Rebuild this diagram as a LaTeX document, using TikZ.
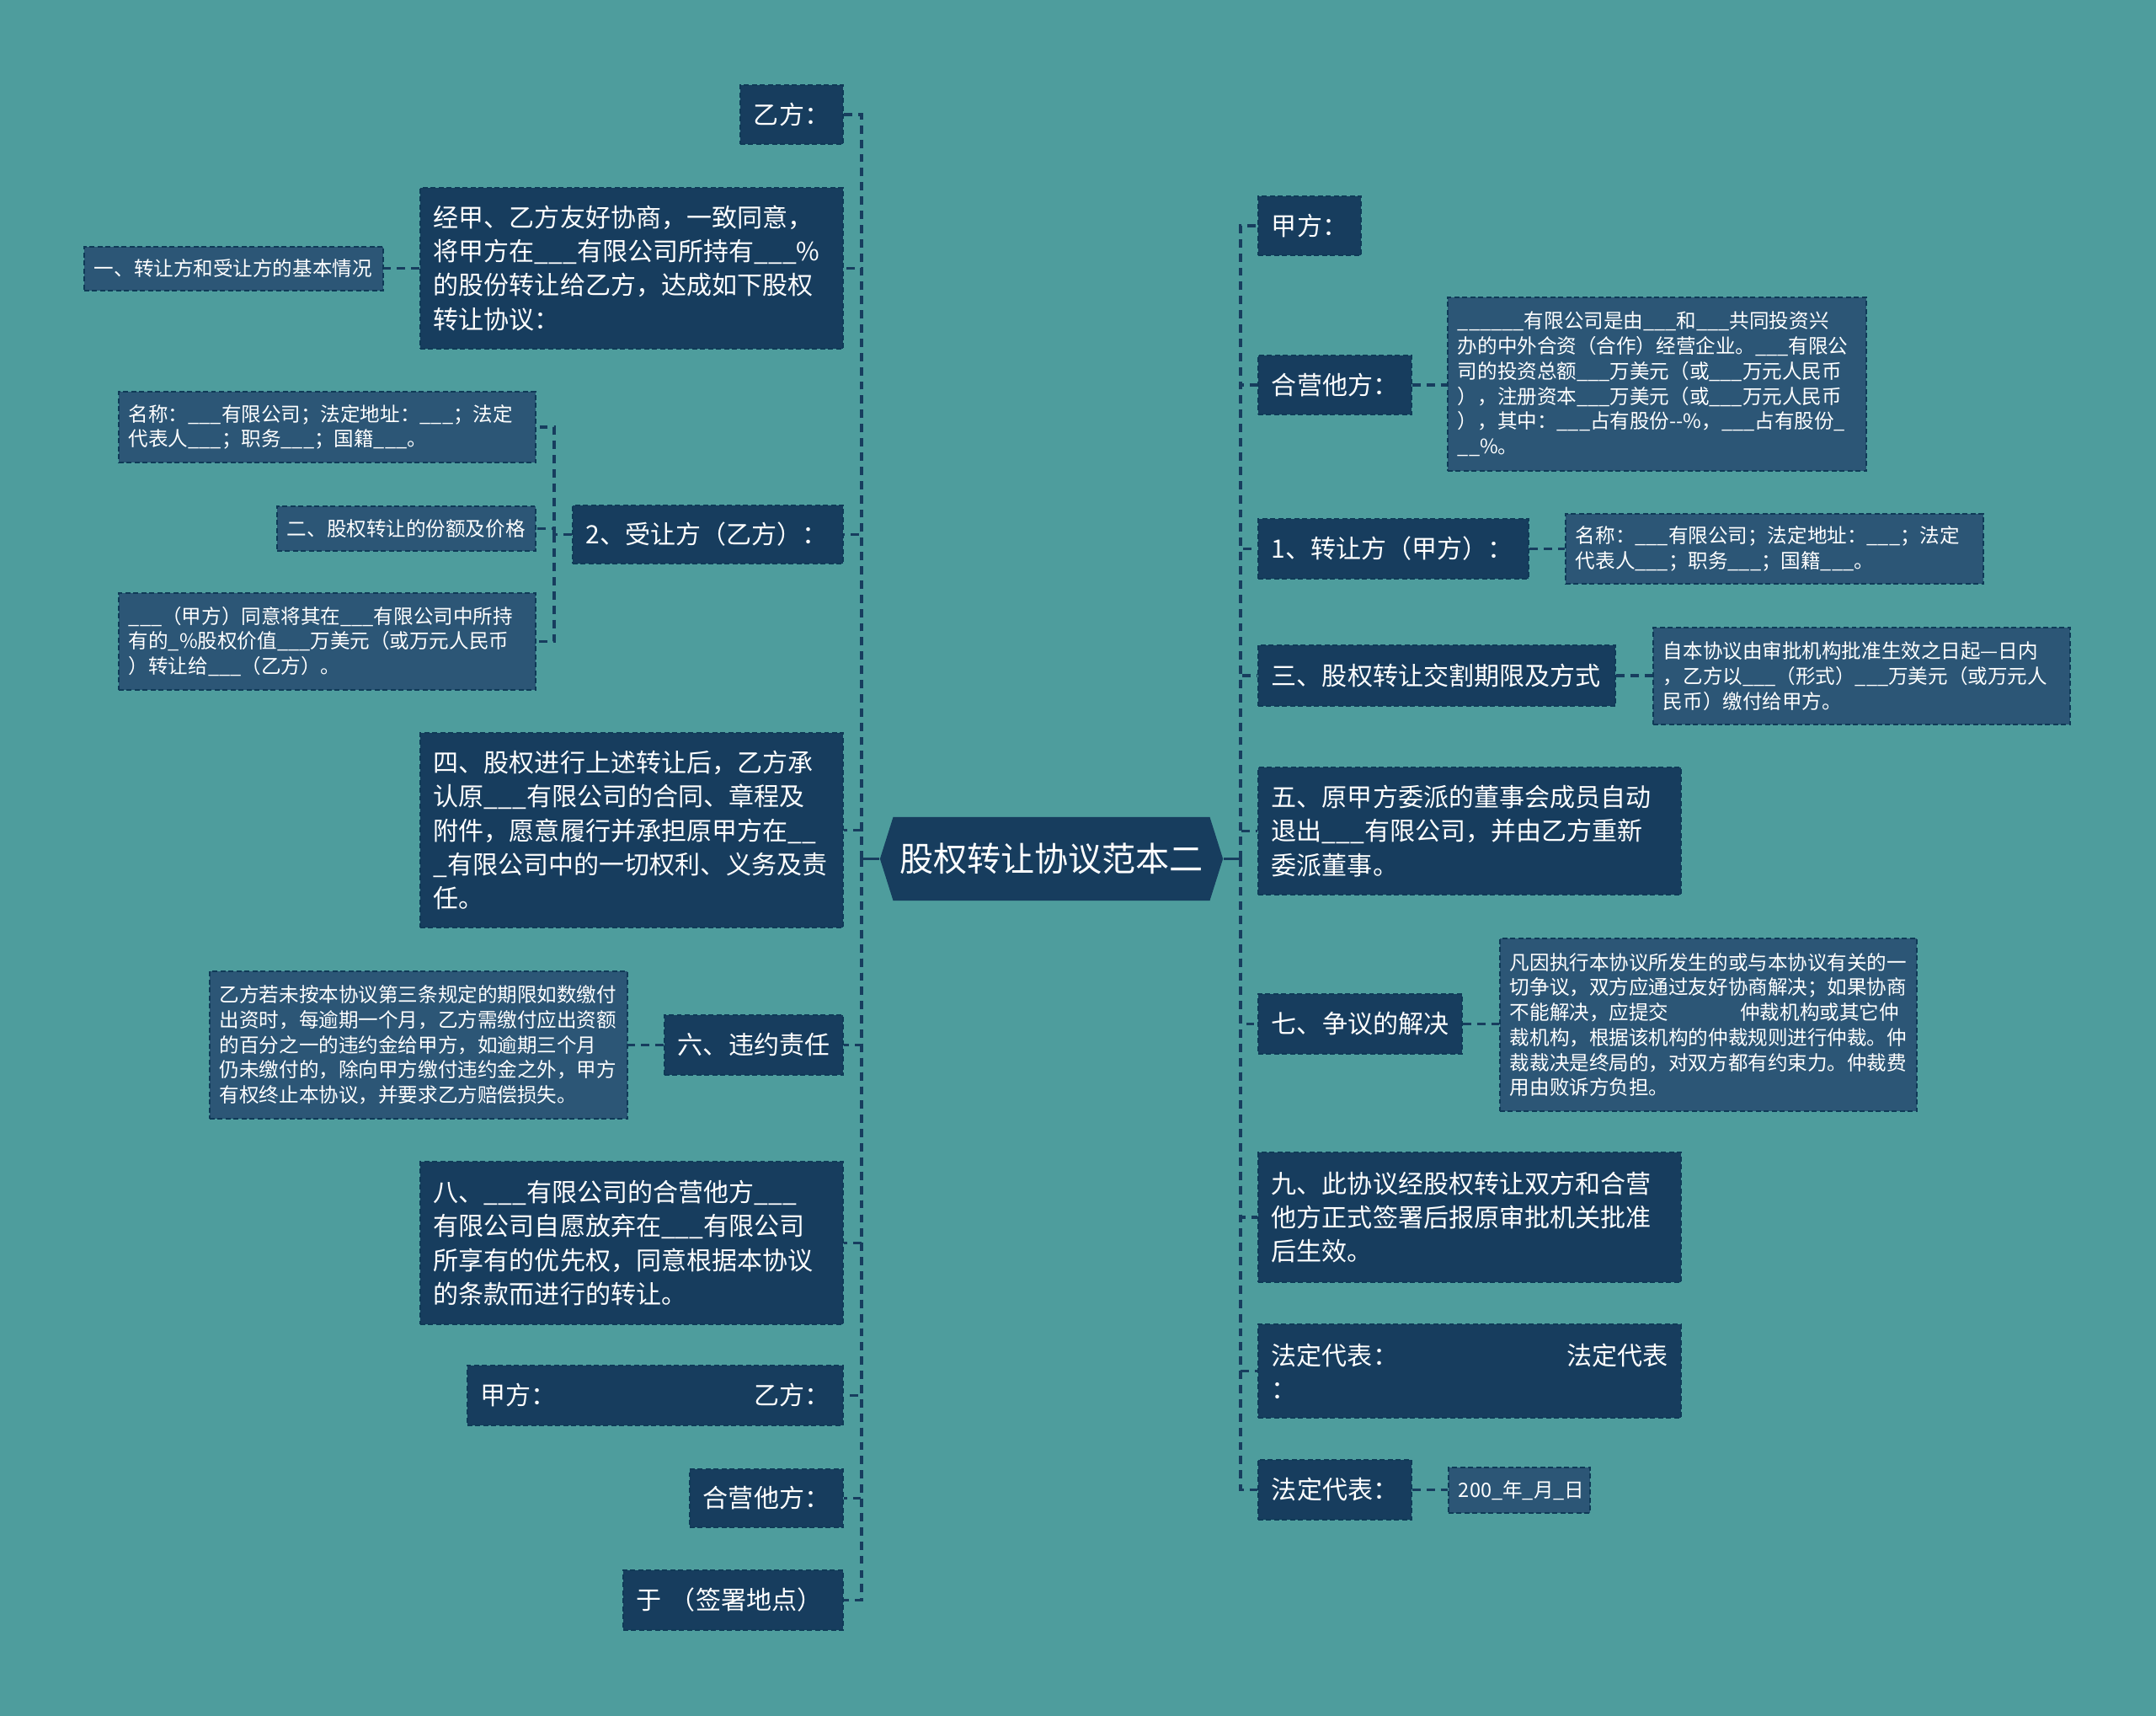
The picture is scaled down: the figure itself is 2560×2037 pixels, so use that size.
\documentclass[tikz,border=0pt]{standalone}
\usepackage{fontspec}
\usepackage{tikz}
\usetikzlibrary{shapes.symbols}
\newfontfamily\cjk{Noto Sans CJK SC}
\definecolor{bgteal}{HTML}{4E9D9D}
\definecolor{navy}{HTML}{173D5E}
\definecolor{subblue}{HTML}{2C5676}
\definecolor{edge}{HTML}{0F3A57}
\definecolor{wire}{HTML}{173D5E}

\begin{document}
\begin{tikzpicture}[x=0.01cm,y=-0.01cm]
\tikzstyle{main}=[rectangle,fill=navy,draw=edge,line width=0.5pt,dash pattern=on 1.7pt off 1pt,text=white,inner xsep=0.16cm,inner ysep=0pt,align=left,font=\cjk\fontsize{8.54}{11.4}\selectfont]
\tikzstyle{sub}=[rectangle,fill=subblue,draw=edge,line width=0.5pt,dash pattern=on 1.7pt off 1pt,text=white,inner xsep=0.12cm,inner ysep=0pt,align=left,font=\cjk\fontsize{6.7}{8.45}\selectfont]
\tikzstyle{centre}=[shape=signal,signal to=west and east,signal pointer angle=145,fill=navy,text=white,inner sep=0pt,minimum width=4.07cm,minimum height=0.99cm,font=\cjk\fontsize{11.4}{13}\selectfont]
\tikzstyle{link}=[draw=wire,line width=0.9pt,dash pattern=on 2.8pt off 2pt]
\useasboundingbox (0,0) rectangle (2560,2037);
\fill[bgteal] (0,0) rectangle (2560,2037);

\node[centre] (c) at (1248.5,1019.5) {股权转让协议范本二};
\coordinate (lj) at (1023,1019.5);
\coordinate (rj) at (1473,1019.5);

% left branch
\node[main,text width=0.90cm,minimum height=0.70cm] (l1) at (940,136) {乙方：};
\node[main,text width=4.70cm,minimum height=1.91cm] (l2) at (750,318.5) {经甲、乙方友好协商，一致同意，\\将甲方在\_\_\_有限公司所持有\_\_\_\%\\的股份转让给乙方，达成如下股权\\转让协议：};
\node[main,text width=2.89cm,minimum height=0.69cm] (l3) at (840.5,634.5) {2、受让方（乙方）：};
\node[main,text width=4.70cm,minimum height=2.31cm] (l4) at (750,985.5) {四、股权进行上述转让后，乙方承\\认原\_\_\_有限公司的合同、章程及\\附件，愿意履行并承担原甲方在\_\_\\\_有限公司中的一切权利、义务及责\\任。};
\node[main,text width=1.80cm,minimum height=0.71cm] (l5) at (895,1240.5) {六、违约责任};
\node[main,text width=4.70cm,minimum height=1.93cm] (l6) at (750,1475.5) {八、\_\_\_有限公司的合营他方\_\_\_\\有限公司自愿放弃在\_\_\_有限公司\\所享有的优先权，同意根据本协议\\的条款而进行的转让。};
\node[main,text width=4.14cm,minimum height=0.71cm] (l7) at (778,1656.5) {甲方：\hfill 乙方：};
\node[main,text width=1.50cm,minimum height=0.69cm] (l8) at (910,1778.5) {合营他方：};
\node[main,text width=2.29cm,minimum height=0.71cm] (l9) at (870.5,1899.5) {于 （签署地点）};

\node[sub,text width=3.31cm,minimum height=0.52cm] (s1) at (277.5,319) {一、转让方和受让方的基本情况};
\node[sub,text width=4.71cm,minimum height=0.84cm] (s2) at (388.5,507) {名称：\_\_\_有限公司；法定地址：\_\_\_；法定\\代表人\_\_\_；职务\_\_\_；国籍\_\_\_。};
\node[sub,text width=2.83cm,minimum height=0.53cm] (s3) at (482.5,627.5) {二、股权转让的份额及价格};
\node[sub,text width=4.71cm,minimum height=1.15cm] (s4) at (388.5,761.5) {\_\_\_（甲方）同意将其在\_\_\_有限公司中所持\\有的\_\%股权价值\_\_\_万美元（或万元人民币\\）转让给\_\_\_（乙方）。};
\node[sub,text width=4.72cm,minimum height=1.75cm] (s5) at (497,1240.5) {乙方若未按本协议第三条规定的期限如数缴付\\出资时，每逾期一个月，乙方需缴付应出资额\\的百分之一的违约金给甲方，如逾期三个月\\仍未缴付的，除向甲方缴付违约金之外，甲方\\有权终止本协议，并要求乙方赔偿损失。};

% right branch
\node[main,text width=0.90cm,minimum height=0.70cm] (r1) at (1555,268) {甲方：};
\node[main,text width=1.50cm,minimum height=0.70cm] (r2) at (1585,457) {合营他方：};
\node[main,text width=2.89cm,minimum height=0.71cm] (r3) at (1654.5,651.5) {1、转让方（甲方）：};
\node[main,text width=3.92cm,minimum height=0.72cm] (r4) at (1706,802) {三、股权转让交割期限及方式};
\node[main,text width=4.70cm,minimum height=1.51cm] (r5) at (1745,986.5) {五、原甲方委派的董事会成员自动\\退出\_\_\_有限公司，并由乙方重新\\委派董事。};
\node[main,text width=2.10cm,minimum height=0.71cm] (r6) at (1615,1215.5) {七、争议的解决};
\node[main,text width=4.70cm,minimum height=1.54cm] (r7) at (1745,1445) {九、此协议经股权转让双方和合营\\他方正式签署后报原审批机关批准\\后生效。};
\node[main,text width=4.70cm,minimum height=1.11cm] (r8) at (1745,1627.5) {法定代表：\hfill 法定代表\\：};
\node[main,text width=1.50cm,minimum height=0.71cm] (r9) at (1585,1768.5) {法定代表：};

\node[sub,text width=4.73cm,minimum height=2.06cm] (t1) at (1967.5,456) {\_\_\_\_\_\_有限公司是由\_\_\_和\_\_\_共同投资兴\\办的中外合资（合作）经营企业。\_\_\_有限公\\司的投资总额\_\_\_万美元（或\_\_\_万元人民币\\），注册资本\_\_\_万美元（或\_\_\_万元人民币\\），其中：\_\_\_占有股份--\%，\_\_\_占有股份\_\\\_\_\%。};
\node[sub,text width=4.72cm,minimum height=0.83cm] (t2) at (2107,651.5) {名称：\_\_\_有限公司；法定地址：\_\_\_；法定\\代表人\_\_\_；职务\_\_\_；国籍\_\_\_。};
\node[sub,text width=4.71cm,minimum height=1.15cm] (t3) at (2210.5,802.5) {自本协议由审批机构批准生效之日起—日内\\，乙方以\_\_\_（形式）\_\_\_万美元（或万元人\\民币）缴付给甲方。};
\node[sub,text width=4.71cm,minimum height=2.05cm] (t4) at (2028.5,1216.5) {凡因执行本协议所发生的或与本协议有关的一\\切争议，双方应通过友好协商解决；如果协商\\不能解决，应提交\hspace*{0.85cm}仲裁机构或其它仲\\裁机构，根据该机构的仲裁规则进行仲裁。仲\\裁裁决是终局的，对双方都有约束力。仲裁费\\用由败诉方负担。};
\node[sub,text width=1.44cm,minimum height=0.54cm] (t5) at (1804,1769) {200\_年\_月\_日};

% connectors
\draw[draw=wire,line width=0.9pt] (c.west) -- (lj);
\draw[draw=wire,line width=0.9pt] (c.east) -- (rj);
\foreach \n in {l1,l2,l3,l4,l5,l6,l7,l8,l9}
\draw[link] (lj) |- (\n.east);
\foreach \n in {r1,r2,r3,r4,r5,r6,r7,r8,r9}
\draw[link] (rj) |- (\n.west);
\foreach \from/\to in {l2/s1,l5/s5}
\draw[link] (\from.west) -- (\from.west -| \to.east);
\foreach \from/\to in {r2/t1,r3/t2,r4/t3,r6/t4,r9/t5}
\draw[link] (\from.east) -- (\from.east -| \to.west);
\coordinate (lk) at (658,634.5);
\draw[link] (l3.west) -- (lk);
\foreach \n in {s2,s3,s4}
\draw[link] (lk) |- (\n.east);
\end{tikzpicture}
\end{document}
